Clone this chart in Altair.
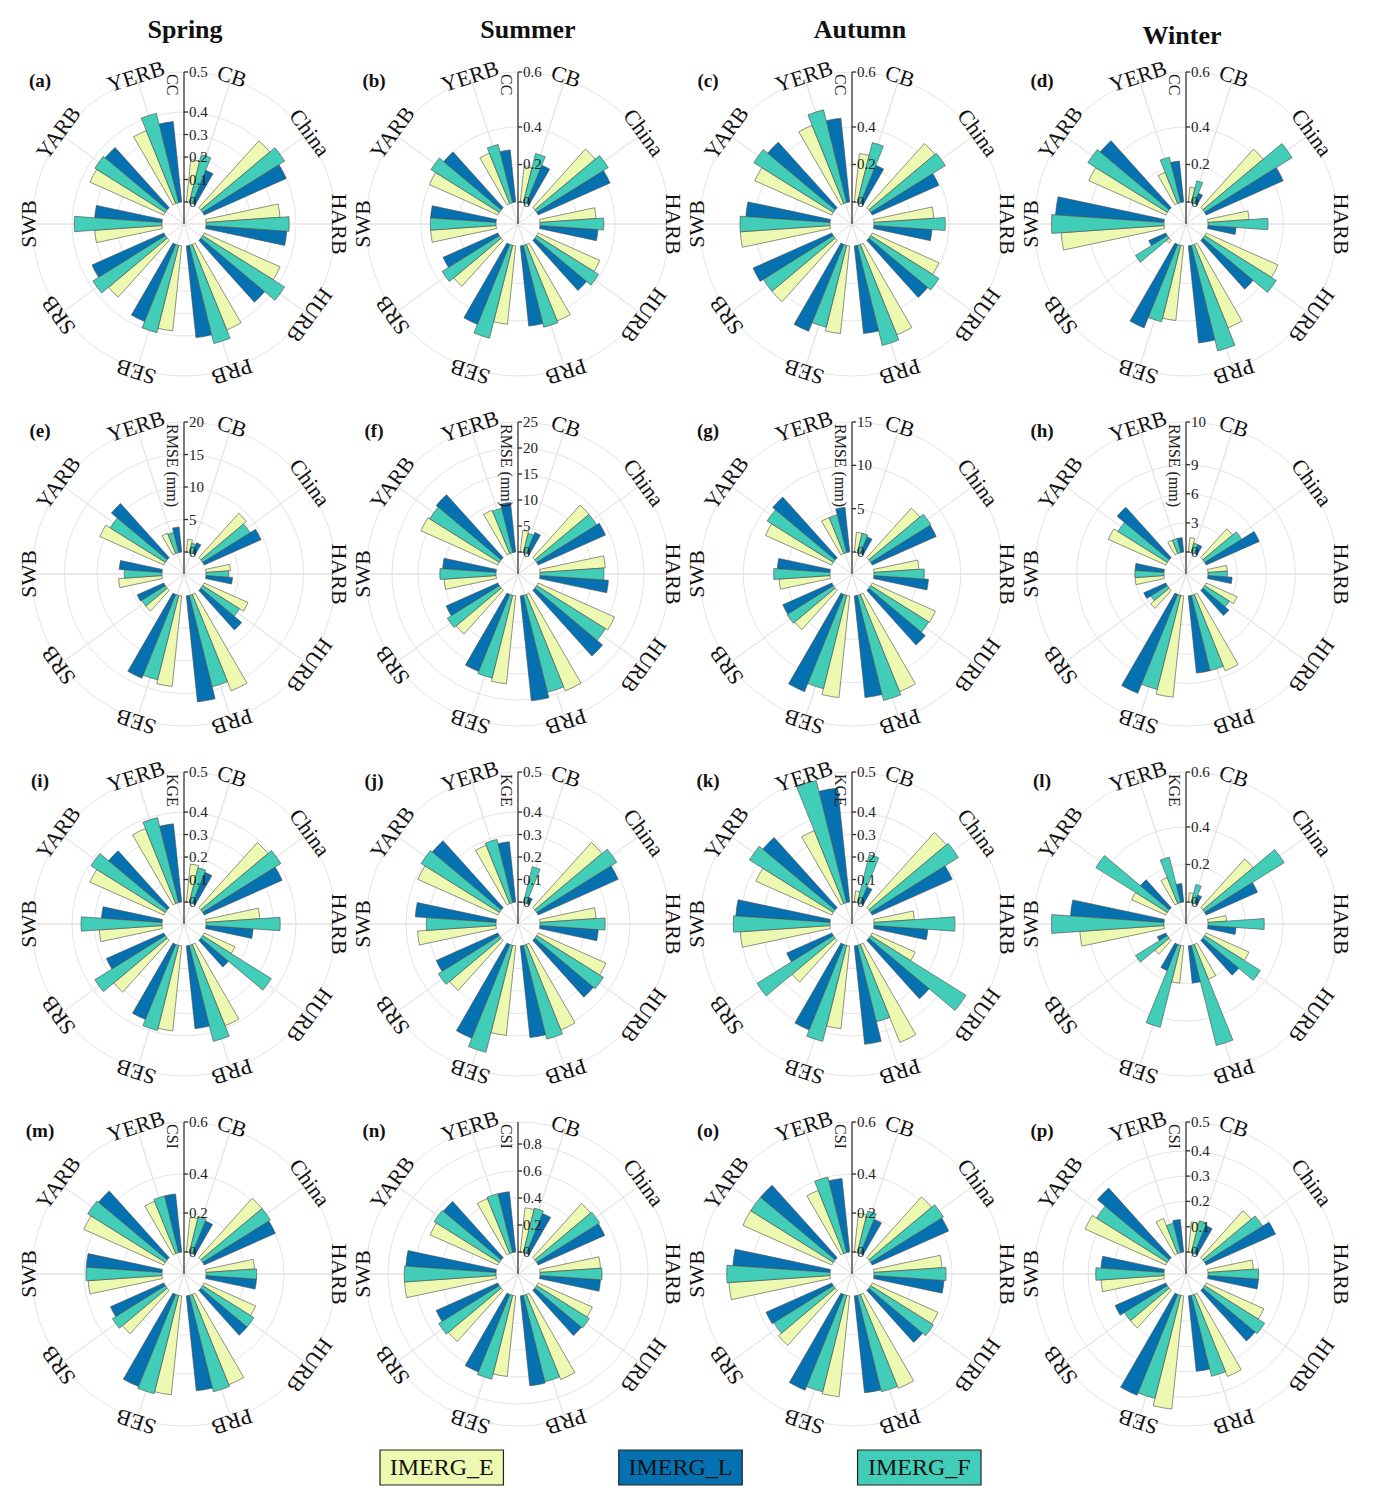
import math
import altair as alt
import pandas as pd

SERIF = "Liberation Serif"

# ---------------- categories / series ----------------
regions = ["China", "HARB", "HURB", "PRB", "SEB", "SRB", "SWB", "YARB", "YERB", "CB"]
region_angles = [54, 90, 126, 162, 198, 234, 270, 306, 342, 18]
series = ["IMERG_E", "IMERG_L", "IMERG_F"]
series_shift = {"IMERG_E": -8, "IMERG_F": 0, "IMERG_L": 8}
colors = ["#EDF8B1", "#0571B0", "#41CDB7"]
seasons = ["Spring", "Summer", "Autumn", "Winter"]

# ---------------- values (order = regions) ----------------
# CC
cc_spring_E = [0.40, 0.33, 0.37, 0.41, 0.38, 0.34, 0.30, 0.36, 0.35, 0.19]
cc_spring_L = [0.40, 0.36, 0.37, 0.41, 0.37, 0.35, 0.30, 0.36, 0.36, 0.16]
cc_spring_F = [0.43, 0.37, 0.43, 0.45, 0.40, 0.38, 0.39, 0.37, 0.41, 0.22]
cc_summer_E = [0.42, 0.30, 0.36, 0.44, 0.42, 0.33, 0.35, 0.40, 0.29, 0.19]
cc_summer_L = [0.42, 0.31, 0.36, 0.43, 0.46, 0.32, 0.35, 0.40, 0.28, 0.22]
cc_summer_F = [0.45, 0.34, 0.39, 0.45, 0.51, 0.36, 0.35, 0.43, 0.32, 0.27]
cc_autumn_E = [0.46, 0.32, 0.39, 0.52, 0.47, 0.44, 0.48, 0.45, 0.45, 0.26]
cc_autumn_L = [0.39, 0.31, 0.41, 0.47, 0.50, 0.46, 0.45, 0.47, 0.45, 0.22]
cc_autumn_F = [0.47, 0.38, 0.43, 0.55, 0.45, 0.44, 0.48, 0.50, 0.51, 0.33]
cc_winter_E = [0.42, 0.22, 0.42, 0.48, 0.40, 0.02, 0.55, 0.45, 0.18, 0.08]
cc_winter_L = [0.45, 0.15, 0.35, 0.52, 0.48, 0.10, 0.58, 0.48, 0.22, 0.06]
cc_winter_F = [0.55, 0.32, 0.45, 0.58, 0.42, 0.20, 0.60, 0.50, 0.25, 0.12]
# RMSE (mm)
rmse_spring_E = [9.2, 3.8, 7.4, 16.0, 14.0, 4.3, 6.7, 10.8, 3.4, 2.0]
rmse_spring_L = [9.6, 4.1, 8.2, 16.4, 13.9, 4.5, 6.6, 11.2, 3.9, 1.8]
rmse_spring_F = [8.6, 3.5, 6.7, 14.5, 13.4, 4.3, 5.8, 10.0, 3.2, 1.5]
rmse_summer_E = [13.6, 12.6, 16.1, 20.0, 17.0, 11.3, 10.0, 16.2, 9.0, 4.2]
rmse_summer_L = [14.2, 13.2, 17.0, 20.3, 16.0, 10.9, 10.3, 16.3, 9.6, 4.4]
rmse_summer_F = [13.6, 12.3, 15.6, 19.2, 16.4, 11.8, 10.8, 15.8, 8.8, 3.8]
rmse_autumn_E = [7.7, 5.2, 8.0, 12.1, 11.8, 6.1, 5.9, 8.4, 4.5, 2.3]
rmse_autumn_L = [8.1, 6.3, 8.5, 11.8, 12.1, 6.2, 6.1, 9.4, 5.2, 2.1]
rmse_autumn_F = [8.2, 5.8, 7.9, 12.5, 11.1, 6.3, 6.5, 9.0, 4.5, 2.3]
rmse_winter_E = [4.0, 2.0, 3.5, 8.5, 10.5, 2.5, 3.0, 6.5, 1.5, 1.5]
rmse_winter_L = [6.0, 2.5, 3.5, 8.0, 11.0, 2.5, 3.0, 7.0, 1.5, 1.0]
rmse_winter_F = [4.5, 2.0, 3.0, 8.0, 10.0, 2.0, 3.0, 6.0, 1.5, 1.0]
# KGE
kge_spring_E = [0.39, 0.24, 0.15, 0.39, 0.38, 0.31, 0.28, 0.36, 0.36, 0.17]
kge_spring_L = [0.38, 0.21, 0.16, 0.37, 0.36, 0.28, 0.27, 0.34, 0.35, 0.15]
kge_spring_F = [0.41, 0.33, 0.36, 0.44, 0.39, 0.37, 0.36, 0.39, 0.39, 0.16]
kge_summer_E = [0.39, 0.25, 0.33, 0.41, 0.40, 0.30, 0.35, 0.39, 0.28, 0.00]
kge_summer_L = [0.39, 0.26, 0.34, 0.41, 0.45, 0.30, 0.36, 0.40, 0.27, 0.03]
kge_summer_F = [0.42, 0.29, 0.35, 0.43, 0.49, 0.32, 0.31, 0.41, 0.29, 0.165]
kge_autumn_E = [0.45, 0.18, 0.21, 0.47, 0.37, 0.25, 0.40, 0.37, 0.35, 0.05]
kge_autumn_L = [0.39, 0.24, 0.35, 0.44, 0.41, 0.22, 0.42, 0.42, 0.51, 0.08]
kge_autumn_F = [0.46, 0.36, 0.50, 0.35, 0.44, 0.40, 0.43, 0.44, 0.56, 0.22]
kge_winter_E = [0.35, 0.10, 0.25, 0.20, 0.20, 0.10, 0.45, 0.20, 0.15, 0.05]
kge_winter_L = [0.30, 0.15, 0.25, 0.20, 0.15, 0.05, 0.50, 0.20, 0.10, 0.05]
kge_winter_F = [0.50, 0.30, 0.35, 0.55, 0.45, 0.20, 0.60, 0.45, 0.25, 0.10]
# CSI
csi_spring_E = [0.41, 0.25, 0.29, 0.50, 0.51, 0.30, 0.38, 0.45, 0.29, 0.18]
csi_spring_L = [0.40, 0.26, 0.31, 0.49, 0.51, 0.30, 0.39, 0.46, 0.30, 0.18]
csi_spring_F = [0.41, 0.26, 0.31, 0.51, 0.52, 0.32, 0.39, 0.47, 0.30, 0.19]
csi_summer_E = [0.54, 0.45, 0.44, 0.68, 0.60, 0.51, 0.68, 0.55, 0.44, 0.33]
csi_summer_L = [0.54, 0.45, 0.45, 0.67, 0.62, 0.50, 0.67, 0.56, 0.45, 0.32]
csi_summer_F = [0.55, 0.46, 0.46, 0.66, 0.64, 0.53, 0.68, 0.57, 0.45, 0.34]
csi_autumn_E = [0.42, 0.35, 0.37, 0.52, 0.52, 0.38, 0.52, 0.50, 0.35, 0.20]
csi_autumn_L = [0.43, 0.36, 0.36, 0.50, 0.53, 0.37, 0.50, 0.50, 0.38, 0.19]
csi_autumn_F = [0.44, 0.37, 0.38, 0.51, 0.51, 0.36, 0.53, 0.50, 0.40, 0.22]
csi_winter_E = [0.25, 0.18, 0.25, 0.35, 0.45, 0.20, 0.25, 0.35, 0.15, 0.12]
csi_winter_L = [0.30, 0.20, 0.27, 0.30, 0.43, 0.22, 0.25, 0.37, 0.13, 0.12]
csi_winter_F = [0.27, 0.20, 0.28, 0.33, 0.42, 0.20, 0.27, 0.33, 0.12, 0.13]

# radial axis: (axis end value, tick values, label at axis end)
axis_cc_a = (0.578, [0, 0.1, 0.2, 0.3, 0.4], "0.5")
axis_cc_b = (0.693, [0, 0.2, 0.4], "0.6")
axis_rmse_e = (20, [0, 5, 10, 15], "20")
axis_rmse_f = (25, [0, 5, 10, 15, 20], "25")
axis_rmse_g = (15, [0, 5, 10], "15")
axis_rmse_h = (13.4, [0, 3, 6, 9], "10")
axis_kge = (0.578, [0, 0.1, 0.2, 0.3, 0.4], "0.5")
axis_kge_l = (0.693, [0, 0.2, 0.4], "0.6")
axis_csi_m = (0.667, [0, 0.2, 0.4], "0.6")
axis_csi_n = (0.963, [0, 0.2, 0.4, 0.6, 0.8], "")
axis_csi_p = (0.514, [0, 0.1, 0.2, 0.3, 0.4], "0.5")

W, H = 334, 350
R_IN, R_OUT = 22, 152
BAR_W = 8
GRID = "#e4e4e4"
AX = "#333333"


def panel(letter, metric, E, L, F, axis, title=None, title_dx=0, title_dy=0):
    rmax, ticks, top_label = axis
    rows = []
    for s, vals in zip(series, (E, L, F)):
        for reg, ang, v in zip(regions, region_angles, vals):
            c = ang + series_shift[s]
            rows.append({"region": reg, "series": s, "value": v,
                         "t0": c - BAR_W / 2, "t1": c + BAR_W / 2})
    bars_df = pd.DataFrame(rows)
    lab_df = pd.DataFrame({"region": regions, "ang": region_angles, "rr": [rmax] * len(regions)})
    tick_vals = list(ticks) + ([rmax] if top_label else [])
    tick_labels = [f"{t:g}" for t in ticks] + ([top_label] if top_label else [])
    tick_df = pd.DataFrame({"v": tick_vals, "label": tick_labels})
    grid_df = pd.DataFrame({"r": [t for t in ticks if t > 0] + [rmax]})
    end_df = pd.DataFrame({"v": [rmax], "t": [metric]})

    tsc = alt.Scale(domain=[0, 360], range=[0, 2 * math.pi])
    rsc = alt.Scale(type="linear", domain=[0, rmax], range=[R_IN, R_OUT], zero=False, nice=False)
    ysc = alt.Scale(type="linear", domain=[0, rmax], range=[H / 2 - R_IN, H / 2 - R_OUT],
                    zero=False, nice=False)

    grid = alt.Chart(grid_df).mark_arc(fill="white", fillOpacity=0, stroke=GRID, strokeWidth=1).encode(
        theta=alt.value(0), theta2=alt.value(2 * math.pi),
        radius=alt.Radius("r:Q", scale=rsc, stack=None), radius2=alt.value(0))

    spokes = alt.Chart(lab_df).mark_arc(fill="white", fillOpacity=0, stroke=GRID, strokeWidth=1).encode(
        theta=alt.Theta("ang:Q", scale=tsc, stack=None), theta2="ang:Q",
        radius=alt.Radius("rr:Q", scale=rsc, stack=None), radius2=alt.value(0))

    bars = alt.Chart(bars_df).mark_arc(stroke="#4a4a4a", strokeWidth=0.6).encode(
        theta=alt.Theta("t0:Q", scale=tsc, stack=None), theta2="t1:Q",
        radius=alt.Radius("value:Q", scale=rsc, stack=None), radius2=alt.datum(0),
        color=alt.Color("series:N", scale=alt.Scale(domain=series, range=colors), legend=None))

    labels = alt.Chart(lab_df).mark_text(font=SERIF, fontSize=22, align="center", baseline="middle",
                                         radiusOffset=3, color="#111").encode(
        theta=alt.Theta("ang:Q", scale=tsc, stack=None),
        radius=alt.Radius("rr:Q", scale=rsc, stack=None),
        angle=alt.Angle("ang:Q", scale=None),
        text="region:N")

    axis_line = alt.Chart(end_df).mark_rule(color=AX, strokeWidth=1.3).encode(
        x=alt.value(W / 2), y=alt.Y("v:Q", scale=ysc, axis=None), y2=alt.value(H / 2))
    tick_marks = alt.Chart(tick_df).mark_rule(color=AX, strokeWidth=1.3).encode(
        x=alt.value(W / 2), x2=alt.value(W / 2 + 4), y=alt.Y("v:Q", scale=ysc, axis=None))
    tick_text = alt.Chart(tick_df).mark_text(align="left", baseline="middle", dx=5, font=SERIF,
                                             fontSize=15, color="#222").encode(
        x=alt.value(W / 2), y=alt.Y("v:Q", scale=ysc, axis=None), text="label:N")
    axis_title = alt.Chart(end_df).mark_text(angle=90, align="left", baseline="top", dx=2, dy=4,
                                             font=SERIF, fontSize=16, color="#222").encode(
        x=alt.value(W / 2), y=alt.Y("v:Q", scale=ysc, axis=None), text="t:N")
    letter_text = alt.Chart(pd.DataFrame({"t": [letter]})).mark_text(
        font=SERIF, fontSize=19, fontWeight="bold", align="center", baseline="middle", color="#111"
    ).encode(x=alt.value(23), y=alt.value(32), text="t:N")

    ch = alt.layer(grid, spokes, bars, labels, axis_line, tick_marks, tick_text, axis_title,
                   letter_text).properties(width=W, height=H)
    if title:
        ch = ch.properties(title=alt.TitleParams(title, font=SERIF, fontSize=26, fontWeight="bold",
                                                 anchor="middle", baseline="alphabetic", offset=-15,
                                                 dx=title_dx, dy=title_dy, color="#111"))
    return ch


row1 = alt.hconcat(
    panel("(a)", "CC", cc_spring_E, cc_spring_L, cc_spring_F, axis_cc_a, "Spring", 1, 0),
    panel("(b)", "CC", cc_summer_E, cc_summer_L, cc_summer_F, axis_cc_b, "Summer", 10, 0),
    panel("(c)", "CC", cc_autumn_E, cc_autumn_L, cc_autumn_F, axis_cc_b, "Autumn", 8, 0),
    panel("(d)", "CC", cc_winter_E, cc_winter_L, cc_winter_F, axis_cc_b, "Winter", -4, 6),
    spacing=0)
row2 = alt.hconcat(
    panel("(e)", "RMSE (mm)", rmse_spring_E, rmse_spring_L, rmse_spring_F, axis_rmse_e),
    panel("(f)", "RMSE (mm)", rmse_summer_E, rmse_summer_L, rmse_summer_F, axis_rmse_f),
    panel("(g)", "RMSE (mm)", rmse_autumn_E, rmse_autumn_L, rmse_autumn_F, axis_rmse_g),
    panel("(h)", "RMSE (mm)", rmse_winter_E, rmse_winter_L, rmse_winter_F, axis_rmse_h),
    spacing=0)
row3 = alt.hconcat(
    panel("(i)", "KGE", kge_spring_E, kge_spring_L, kge_spring_F, axis_kge),
    panel("(j)", "KGE", kge_summer_E, kge_summer_L, kge_summer_F, axis_kge),
    panel("(k)", "KGE", kge_autumn_E, kge_autumn_L, kge_autumn_F, axis_kge),
    panel("(l)", "KGE", kge_winter_E, kge_winter_L, kge_winter_F, axis_kge_l),
    spacing=0)
row4 = alt.hconcat(
    panel("(m)", "CSI", csi_spring_E, csi_spring_L, csi_spring_F, axis_csi_m),
    panel("(n)", "CSI", csi_summer_E, csi_summer_L, csi_summer_F, axis_csi_n),
    panel("(o)", "CSI", csi_autumn_E, csi_autumn_L, csi_autumn_F, axis_csi_m),
    panel("(p)", "CSI", csi_winter_E, csi_winter_L, csi_winter_F, axis_csi_p),
    spacing=0)

leg_df = pd.DataFrame({"series": series})
leg_x = alt.Scale(type="band", domain=series, range=[363, 964], paddingInner=0.483, paddingOuter=0)
leg_rect = alt.Chart(leg_df).mark_rect(stroke="#222", strokeWidth=1.2).encode(
    x=alt.X("series:N", scale=leg_x, axis=None),
    color=alt.Color("series:N", scale=alt.Scale(domain=series, range=colors), legend=None))
leg_text = alt.Chart(leg_df).mark_text(font=SERIF, fontSize=24, baseline="middle", color="#111").encode(
    x=alt.X("series:N", scale=leg_x, axis=None), y=alt.value(18), text="series:N")
legend = alt.layer(leg_rect, leg_text).properties(width=4 * W, height=35)

chart = alt.vconcat(row1, row2, row3, row4, legend, spacing=0).properties(
    padding={"left": 9, "top": 9, "right": 0, "bottom": 0}, background="white"
).configure_view(stroke=None)

chart.save("out.html", embed_options={"renderer": "svg", "actions": False})
